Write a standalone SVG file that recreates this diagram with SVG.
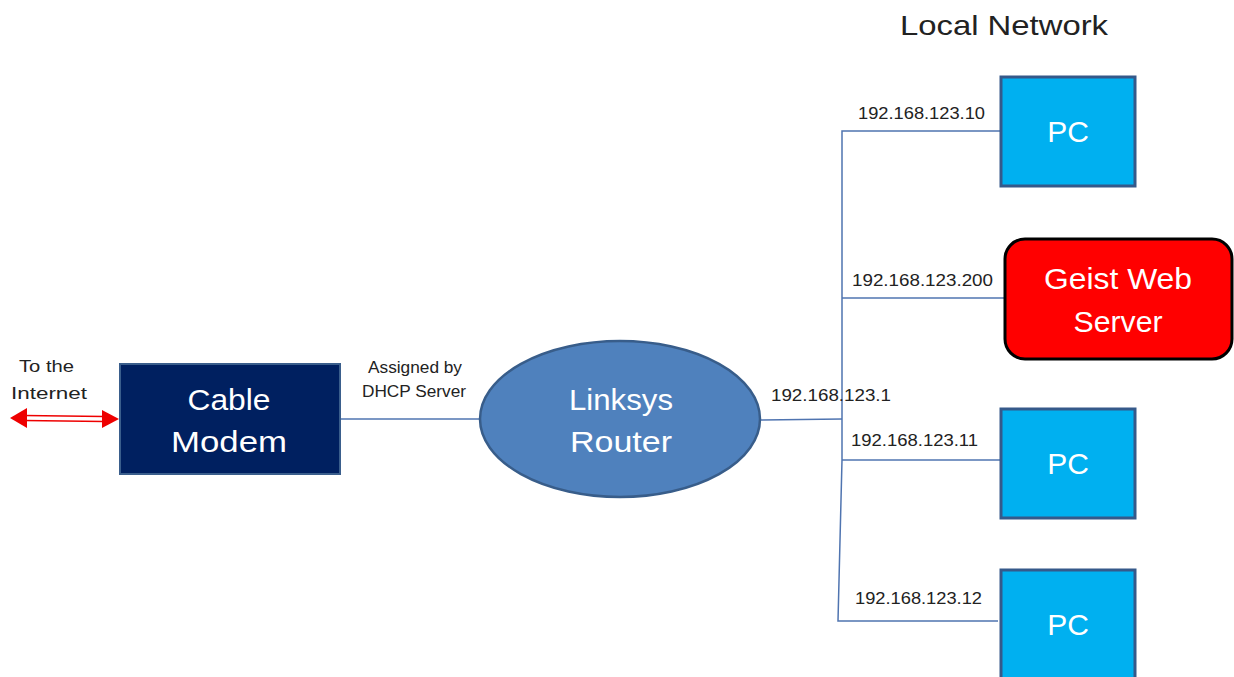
<svg xmlns="http://www.w3.org/2000/svg" width="1234" height="677" viewBox="0 0 1234 677">
<style>
.t{font-family:"Liberation Sans",Arial,sans-serif;}
.lbl{font-family:"Liberation Sans",Arial,sans-serif;font-size:16px;fill:#222;}
.big{font-family:"Liberation Sans",Arial,sans-serif;font-size:30px;fill:#fff;text-anchor:middle;}
.pc{fill:#00b0f0;stroke:#35598a;stroke-width:3;}
.conn{stroke:#4f74b0;stroke-width:1.5;fill:none;}
</style>
<rect width="1234" height="677" fill="#fff"/>
<text class="t" x="900" y="35" font-size="28" fill="#222" textLength="208" lengthAdjust="spacingAndGlyphs">Local Network</text>

<g id="connectors">
  <line class="conn" x1="340" y1="419" x2="481" y2="419"/>
  <line class="conn" x1="760" y1="420" x2="842" y2="419"/>
  <polyline class="conn" points="1000,131 842,131 842,460 838,621 998,621"/>
  <line class="conn" x1="842" y1="298" x2="1005" y2="298"/>
  <line class="conn" x1="842" y1="460" x2="1000" y2="460"/>
  <g id="internet-arrow">
    <line x1="24" y1="415.5" x2="104" y2="416.5" stroke="#e00" stroke-width="1.6"/>
    <line x1="24" y1="420.5" x2="104" y2="421.5" stroke="#e00" stroke-width="1.6"/>
    <polygon points="10,418 27,408 27,428" fill="#e00"/>
    <polygon points="119,419 102,410 102,428" fill="#e00"/>
  </g>
</g>

<g id="labels">
  <text class="lbl" x="19" y="372" font-size="17" textLength="55" lengthAdjust="spacingAndGlyphs">To the</text>
  <text class="lbl" x="11" y="399" font-size="17" textLength="76" lengthAdjust="spacingAndGlyphs">Internet</text>
  <text class="lbl" x="368" y="373" font-size="15" textLength="94" lengthAdjust="spacingAndGlyphs">Assigned by</text>
  <text class="lbl" x="362" y="397" font-size="15" textLength="104" lengthAdjust="spacingAndGlyphs">DHCP Server</text>
  <text class="lbl" x="771" y="401" textLength="120" lengthAdjust="spacingAndGlyphs">192.168.123.1</text>
  <text class="lbl" x="858" y="119" textLength="127" lengthAdjust="spacingAndGlyphs">192.168.123.10</text>
  <text class="lbl" x="852" y="286" textLength="141" lengthAdjust="spacingAndGlyphs">192.168.123.200</text>
  <text class="lbl" x="851" y="446" textLength="127" lengthAdjust="spacingAndGlyphs">192.168.123.11</text>
  <text class="lbl" x="855" y="604" textLength="127" lengthAdjust="spacingAndGlyphs">192.168.123.12</text>
</g>

<g id="cable-modem">
  <rect x="120" y="364" width="220" height="110" fill="#002060" stroke="#3a5e8c" stroke-width="2"/>
  <text class="big" x="229" y="410" textLength="83" lengthAdjust="spacingAndGlyphs">Cable</text>
  <text class="big" x="229" y="452" textLength="116" lengthAdjust="spacingAndGlyphs">Modem</text>
</g>

<g id="router">
  <ellipse cx="620" cy="419" rx="140" ry="78" fill="#4f81bd" stroke="#385d8a" stroke-width="2.5"/>
  <text class="big" x="621" y="410" textLength="104" lengthAdjust="spacingAndGlyphs">Linksys</text>
  <text class="big" x="621" y="452" textLength="102" lengthAdjust="spacingAndGlyphs">Router</text>
</g>

<g id="pc1">
  <rect class="pc" x="1001" y="77" width="134" height="109"/>
  <text class="big" x="1068" y="142" font-size="29">PC</text>
</g>

<g id="geist">
  <rect x="1005" y="239" width="227" height="120" rx="20" fill="#ff0000" stroke="#000" stroke-width="3"/>
  <text class="big" x="1118" y="289" textLength="148" lengthAdjust="spacingAndGlyphs">Geist Web</text>
  <text class="big" x="1118" y="332" textLength="89" lengthAdjust="spacingAndGlyphs">Server</text>
</g>

<g id="pc2">
  <rect class="pc" x="1001" y="409" width="134" height="109"/>
  <text class="big" x="1068" y="474" font-size="29">PC</text>
</g>

<g id="pc3">
  <rect class="pc" x="1001" y="570" width="134" height="112"/>
  <text class="big" x="1068" y="635" font-size="29">PC</text>
</g>
</svg>
